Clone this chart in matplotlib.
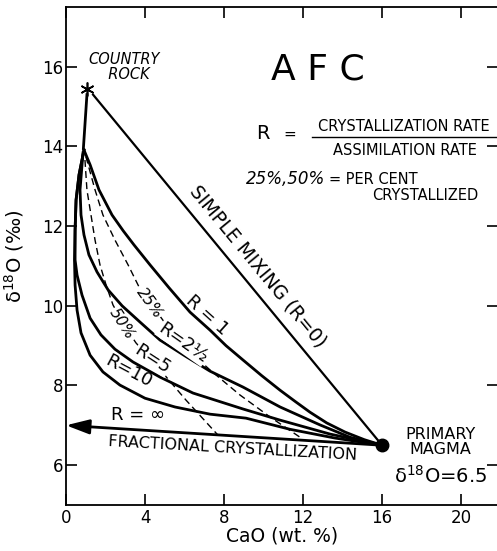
import matplotlib
matplotlib.use("Agg")
import matplotlib.pyplot as plt
from matplotlib.lines import Line2D

# End members
country_rock = (1.06, 15.45)
primary_magma = (16.0, 6.5)
mixing_start = (1.37, 15.3)
link_x = [1.06, 0.88]
link_y = [15.3, 13.95]

# AFC curves (CaO wt.%, d18O per mil)
r1_x = [0.91, 1.22, 1.67, 2.33, 2.9, 3.44, 4.25, 5.22, 6.28, 7.29, 8.1, 8.96, 9.9, 10.84,
        11.6, 12.35, 13.2, 14.13, 15.1, 16.0]
r1_y = [13.91, 13.54, 12.91, 12.28, 11.88, 11.53, 11.03, 10.45, 9.84, 9.39, 9.0, 8.64, 8.25, 7.88,
        7.6, 7.33, 7.06, 6.83, 6.64, 6.5]

r25_x = [0.86, 0.71, 0.76, 0.91, 1.16, 1.57, 2.13, 2.84, 3.75, 4.76, 6.03, 7.29, 8.96, 10.84,
         12.86, 14.38, 16.0]
r25_y = [13.84, 12.91, 12.28, 11.78, 11.28, 10.85, 10.40, 10.0, 9.59, 9.14, 8.74, 8.36, 7.96, 7.46,
         7.01, 6.70, 6.5]

r5_x = [0.91, 0.66, 0.51, 0.46, 0.46, 0.56, 0.81, 1.22, 1.77, 2.48, 3.39, 4.76, 6.43, 8.96,
        10.84, 13.37, 16.0]
r5_y = [13.91, 13.29, 12.66, 11.90, 11.15, 10.77, 10.27, 9.69, 9.27, 8.91, 8.59, 8.21, 7.81, 7.41,
        7.13, 6.78, 6.5]

r10_x = [0.91, 0.66, 0.51, 0.46, 0.43, 0.46, 0.56, 0.76, 1.22, 1.87, 2.73, 4.0, 5.52, 7.29,
         9.11, 11.34, 13.62, 16.0]
r10_y = [13.91, 13.29, 12.66, 11.90, 11.15, 10.52, 9.89, 9.32, 8.76, 8.34, 8.01, 7.68, 7.46, 7.28,
         7.18, 6.90, 6.68, 6.5]

rinf_end = (0.0, 7.0)

# per cent crystallized (dashed)
c25_x = [1.01, 1.47, 1.87, 2.48, 3.14, 3.70, 4.35, 5.27, 6.28, 7.29, 8.81, 10.33, 11.85]
c25_y = [13.74, 12.91, 12.28, 11.65, 11.03, 10.47, 10.02, 9.39, 8.84, 8.39, 7.76, 7.21, 6.70]

c50_x = [0.96, 1.06, 1.47, 1.72, 2.03, 2.38, 2.94, 3.54, 4.91, 6.08, 7.70]
c50_y = [13.66, 12.91, 11.65, 11.03, 10.52, 10.02, 9.52, 9.07, 8.31, 7.63, 6.75]

x_ticks = [0, 4, 8, 12, 16, 20]
y_ticks = [6, 8, 10, 12, 14, 16]

fig = plt.figure(figsize=(4.97, 5.51), dpi=100)
ax = fig.add_axes([66 / 497, 46 / 551, 432 / 497, 498 / 551])
ax.set_xlim(0, 21.87)
ax.set_ylim(5, 17.5)

lw = 2.0
ax.plot(r1_x, r1_y, color="k", lw=lw)
ax.plot(r25_x, r25_y, color="k", lw=lw)
ax.plot(r5_x, r5_y, color="k", lw=lw)
ax.plot(r10_x, r10_y, color="k", lw=lw)
ax.plot(link_x, link_y, color="k", lw=lw)
ax.plot([mixing_start[0], primary_magma[0]], [mixing_start[1], primary_magma[1]], color="k", lw=1.6)
ax.plot(c25_x, c25_y, color="k", lw=1.0, ls=(0, (5, 3)))
ax.plot(c50_x, c50_y, color="k", lw=1.0, ls=(0, (5, 3)))

# fractional crystallization arrow (R = infinity)
ax.annotate("", xy=rinf_end, xytext=primary_magma,
            arrowprops=dict(arrowstyle="-|>,head_length=0.7,head_width=0.22",
                            color="k", lw=2.0, shrinkA=0, shrinkB=0, mutation_scale=20))

ax.plot(*country_rock, marker=(6, 2, 0), color="k", ms=10, mew=1.2)
ax.plot(*primary_magma, marker="o", color="k", ms=9)

# axes styling
for s in ["left", "bottom", "top"]:
    ax.spines[s].set_linewidth(1.3)
ax.spines["right"].set_visible(False)
ax.set_xticks(x_ticks)
ax.set_yticks(y_ticks)
ax.tick_params(direction="in", length=8, width=1.2, labelsize=12,
               top=True, right=True, pad=3)
ax.tick_params(axis="y", pad=2)
ax.set_xlabel("CaO (wt. %)", fontsize=13.5)
ax.set_ylabel("δ$^{18}$O (‰)", fontsize=14)
ax.xaxis.set_label_coords(0.5, -0.044)
ax.yaxis.set_label_coords(-0.092, 0.5)

# annotations
ax.text(2.94, 15.99, "COUNTRY\n  ROCK", style="italic", fontsize=10.5,
        ha="center", va="center", linespacing=1.0)
ax.text(12.76, 15.92, "A F C", fontsize=26, ha="center", va="center")
ax.text(9.97, 14.33, "R", fontsize=14, ha="center", va="center")
ax.text(11.34, 14.31, "=", fontsize=11, ha="center", va="center")
ax.text(17.11, 14.49, "CRYSTALLIZATION RATE", fontsize=10.5, ha="center", va="center")
ax.text(17.16, 13.89, "ASSIMILATION RATE", fontsize=10.5, ha="center", va="center")
ax.add_line(Line2D([12.46, 21.87], [14.24, 14.24], color="k", lw=1.0))
ax.text(9.12, 13.18, "25%,50%", style="italic", fontsize=12, ha="left", va="center")
ax.text(13.3, 13.18, "= PER CENT", fontsize=10.5, ha="left", va="center")
ax.text(18.18, 12.76, "CRYSTALLIZED", fontsize=10.5, ha="center", va="center")

ax.text(9.72, 11.0, "SIMPLE MIXING (R=0)", fontsize=13.5, rotation=-50.5,
        ha="center", va="center", rotation_mode="anchor")
ax.text(7.14, 9.77, "R = 1", fontsize=13, rotation=-42, ha="center", va="center",
        rotation_mode="anchor")

box = dict(facecolor="white", edgecolor="none", pad=0.3)
ax.text(4.25, 10.07, "25%", style="italic", fontsize=11, rotation=-54, ha="center",
        va="center", rotation_mode="anchor", bbox=box)
ax.text(5.92, 9.07, "R=2½", fontsize=13, rotation=-35, ha="center", va="center",
        rotation_mode="anchor", bbox=box)
ax.text(2.82, 9.54, "50%", style="italic", fontsize=11, rotation=-57, ha="center",
        va="center", rotation_mode="anchor", bbox=box)
ax.text(4.39, 8.66, "R=5", fontsize=13, rotation=-33, ha="center", va="center",
        rotation_mode="anchor", bbox=box)
ax.text(3.16, 8.36, "R=10", fontsize=13, rotation=-28, ha="center", va="center",
        rotation_mode="anchor")
ax.text(3.65, 7.26, "R = ∞", fontsize=13, ha="center", va="center")
ax.text(8.41, 6.43, "FRACTIONAL CRYSTALLIZATION", fontsize=11.5, rotation=-3.2,
        ha="center", va="center", rotation_mode="anchor")

ax.text(18.94, 6.58, "PRIMARY\nMAGMA", fontsize=11.5, ha="center", va="center",
        linespacing=1.0)
ax.text(18.94, 5.73, "δ$^{18}$O=6.5", fontsize=14, ha="center", va="center")

fig.savefig("out.png", dpi=100)
